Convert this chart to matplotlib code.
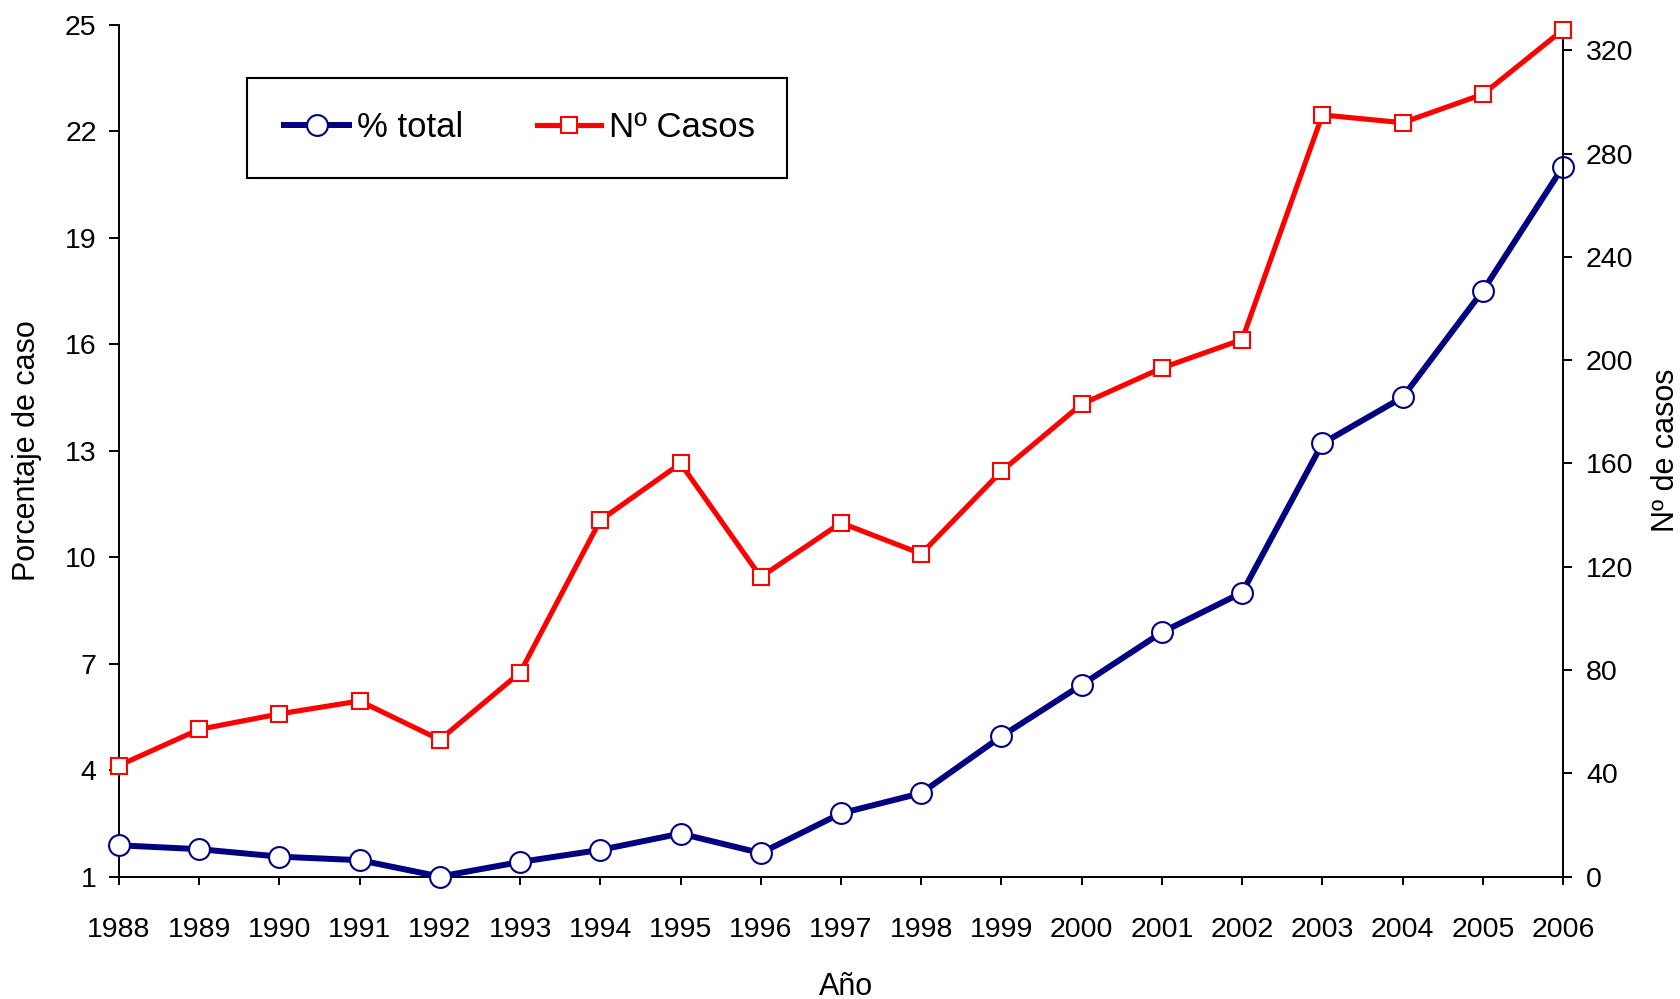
import matplotlib
matplotlib.use("Agg")
import matplotlib.pyplot as plt
from matplotlib.lines import Line2D
from matplotlib.patches import Rectangle
from matplotlib.font_manager import FontProperties

years = [1988, 1989, 1990, 1991, 1992, 1993, 1994, 1995, 1996, 1997,
         1998, 1999, 2000, 2001, 2002, 2003, 2004, 2005, 2006]
pct_total = [1.88, 1.77, 1.56, 1.46, 1.0, 1.41, 1.75, 2.21, 1.66, 2.78,
             3.35, 4.95, 6.40, 7.88, 9.0, 13.2, 14.5, 17.5, 21.0]
n_casos = [43, 57, 63, 68, 53, 79, 138, 160, 116, 137,
           125, 157, 183, 197, 208, 295, 292, 303, 328]
left_ticks = [1, 4, 7, 10, 13, 16, 19, 22, 25]
right_ticks = [0, 40, 80, 120, 160, 200, 240, 280, 320]
legend_labels = ["% total", "Nº Casos"]

plt.rcParams['font.family'] = ['Liberation Sans', 'DejaVu Sans']

BLUE = '#000080'
RED = '#FF0000'

fig = plt.figure(figsize=(16.8, 9.99), dpi=100)
ax = fig.add_axes([0.0708, 0.1226, 0.8596, 0.8528])
ax2 = ax.twinx()

ax.plot(years, pct_total, color=BLUE, lw=4.3, marker='o', ms=15,
        mfc='white', mec=BLUE, mew=1.5, clip_on=False, zorder=3)
ax2.plot(years, n_casos, color=RED, lw=3.7, marker='s', ms=12,
         mfc='white', mec=RED, mew=1.5, clip_on=False, zorder=3)

ax.set_xlim(1988, 2006)
ax.set_ylim(1, 25)
ax2.set_ylim(0, 330)
ax.set_xticks(years)
ax.set_yticks(left_ticks)
ax2.set_yticks(right_ticks)

for a in (ax, ax2):
    a.spines['top'].set_visible(False)
    for s in a.spines.values():
        s.set_linewidth(1.4)
ax.spines['right'].set_visible(False)
ax2.spines['left'].set_visible(False)
ax2.spines['bottom'].set_visible(False)

ax.tick_params(axis='x', direction='out', length=6, width=1.4, pad=23, labelsize=20.5)
ax.tick_params(axis='y', direction='out', length=7, width=1.4, pad=9, labelsize=20.5)
ax2.tick_params(axis='y', direction='out', length=6.5, width=1.4, pad=10, labelsize=20.5)

ax.set_xlabel('Año', fontsize=22)
ax.xaxis.set_label_coords(0.5035, -0.112)
ax.set_ylabel('Porcentaje de caso', fontsize=22)
ax.yaxis.set_label_coords(-0.053, 0.5)
ax2.set_ylabel('Nº de casos', fontsize=22, rotation=90)
ax2.yaxis.set_label_coords(1.061, 0.5)

h1 = Line2D([], [], color=BLUE, lw=4.3, marker='o', ms=15, mfc='white', mec=BLUE, mew=1.5)
h2 = Line2D([], [], color=RED, lw=3.7, marker='s', ms=12, mfc='white', mec=RED, mew=1.5)
leg_font = FontProperties(family=['Liberation Sans', 'DejaVu Sans'], size=25)
fig.legend([h1, h2], legend_labels, loc='center', bbox_to_anchor=(0.3095, 0.8719),
           ncol=2, frameon=False, prop=leg_font, handlelength=1.85,
           handletextpad=0.25, columnspacing=2.1)
fig.patches.append(Rectangle((247 / 1680, 1 - 178 / 999), 540 / 1680, 100 / 999,
                             transform=fig.transFigure, fill=False,
                             ec='black', lw=1.5))

fig.savefig('out.png', dpi=100)
